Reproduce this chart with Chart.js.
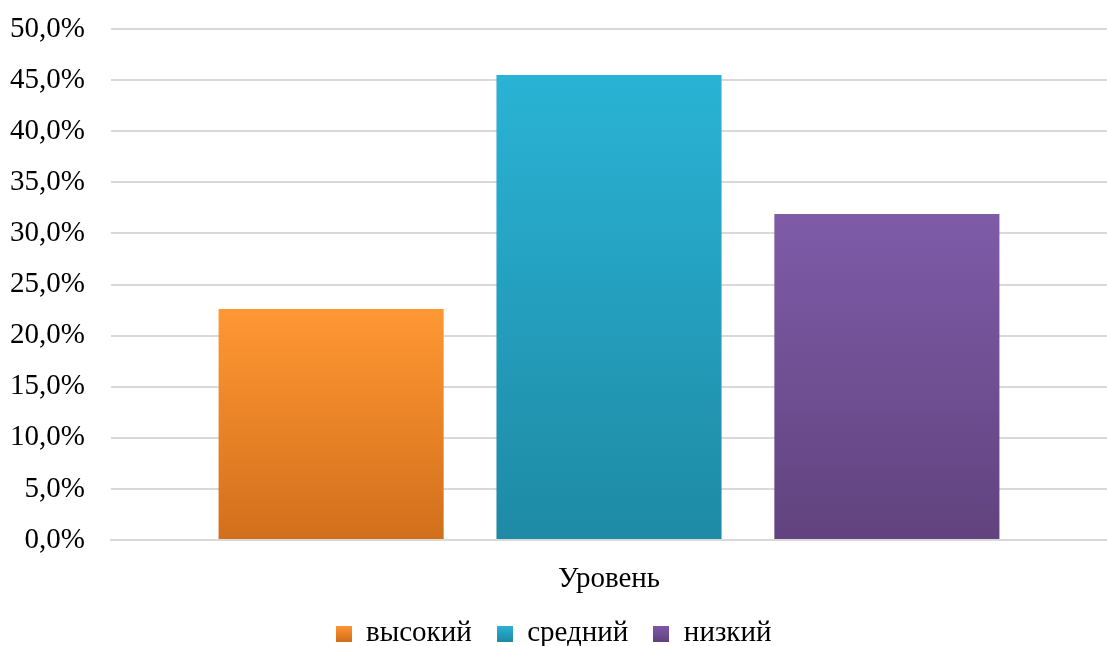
<!DOCTYPE html>
<html>
<head>
<meta charset="utf-8">
<script src="https://cdn.jsdelivr.net/npm/chart.js@4/dist/chart.umd.min.js"></script>
<style>
  html, body { margin: 0; padding: 0; background: #fff; }
  #wrap { width: 1107px; height: 646px; }
</style>
</head>
<body>
<div id="wrap"><canvas id="chart"></canvas></div>
<script>
const categories = ["Уровень"];
const seriesNames = ["высокий", "средний", "низкий"];
const seriesValues = [[22.6], [45.5], [31.9]];
const yTicks = [0, 5, 10, 15, 20, 25, 30, 35, 40, 45, 50];

// top / bottom gradient colours per series
const topColors = ["#ff9733", "#2ab3d5", "#7f5ba7"];
const bottomColors = ["#d26f1b", "#1e8aa5", "#61437f"];

// each bar gets its own gradient, from its top down to the axis
function gradient(i) {
    return (ctx) => {
        const chart = ctx.chart;
        const area = chart.chartArea;
        if (!area || ctx.raw == null) return topColors[i];
        const yTop = chart.scales.y.getPixelForValue(ctx.raw);
        const g = chart.ctx.createLinearGradient(0, yTop, 0, area.bottom);
        g.addColorStop(0, topColors[i]);
        g.addColorStop(1, bottomColors[i]);
        return g;
    };
}

// small gradient squares for the legend
function legendBox(i) {
    const c = document.createElement("canvas");
    c.width = 16;
    c.height = 16;
    const cx = c.getContext("2d");
    const g = cx.createLinearGradient(0, 0, 0, 16);
    g.addColorStop(0, topColors[i]);
    g.addColorStop(1, bottomColors[i]);
    cx.fillStyle = g;
    cx.fillRect(0, 0, 16, 16);
    return c;
}

const font = { family: "'Liberation Serif', 'Times New Roman', serif", size: 29 };

const chart = new Chart(document.getElementById("chart"), {
    type: "bar",
    data: {
        labels: categories,
        datasets: seriesNames.map((name, i) => ({
            label: name,
            data: seriesValues[i],
            backgroundColor: gradient(i),
            borderWidth: 0,
            pointStyle: legendBox(i),
        })),
    },
    options: {
        responsive: true,
        maintainAspectRatio: false,
        animation: false,
        categoryPercentage: 0.837,
        barPercentage: 0.81,
        layout: { padding: { top: 29, right: 0, left: 0, bottom: 0 } },
        scales: {
            x: {
                grid: { display: false },
                border: { display: true, color: "#d9d9d9", width: 2 },
                ticks: { color: "#000", font, padding: 14 },
                afterFit: (axis) => { axis.height = 54; },
            },
            y: {
                min: 0,
                max: 50,
                afterBuildTicks: (axis) => { axis.ticks = yTicks.map(v => ({ value: v })); },
                afterFit: (axis) => {
                    axis.width = 111;
                    axis.paddingTop = 0;
                    axis.paddingBottom = 0;
                },
                grid: { color: "#d9d9d9", lineWidth: 2, drawTicks: false },
                border: { display: false },
                ticks: {
                    color: "#000",
                    font,
                    padding: 26,
                    callback: (v) => v.toFixed(1).replace(".", ",") + "%",
                },
            },
        },
        plugins: {
            legend: {
                position: "bottom",
                labels: {
                    color: "#000",
                    font,
                    usePointStyle: true,
                    pointStyleWidth: 16,
                    padding: 25,
                },
            },
            tooltip: { enabled: false },
        },
    },
});

// legend padding also sets the gap between items; keep the box itself short
const legendFit = chart.legend.fit;
chart.legend.fit = function () {
    legendFit.call(this);
    this.height = 52;
};
chart.update();
</script>
</body>
</html>
